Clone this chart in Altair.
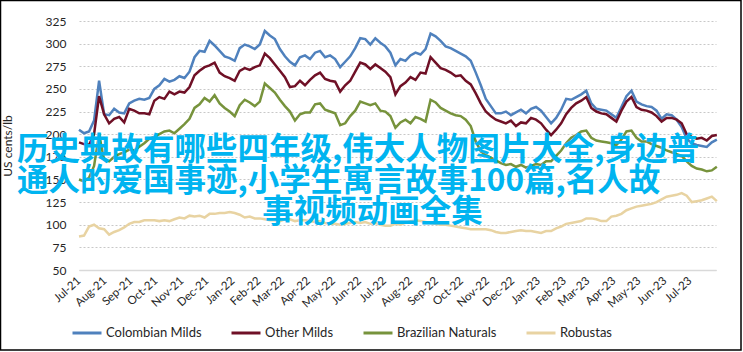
import altair as alt
import pandas as pd

series_names = ["Colombian Milds", "Other Milds", "Brazilian Naturals", "Robustas"]
series_colors = ["#4f81bd", "#6f1026", "#77933c", "#e8d3a2"]

colombian = [205, 201, 203, 215, 259, 222, 221, 228, 224, 223,
             234, 237, 239, 238, 240, 250, 254, 261, 258, 260,
             264, 262, 269, 285, 292, 291, 303, 298, 292, 286,
             284, 281, 295, 299, 297, 294, 299, 314, 309, 305,
             294, 286, 280, 276, 285, 287, 283, 290, 292, 285,
             287, 283, 274, 280, 286, 295, 306, 305, 299, 306,
             301, 297, 290, 276, 283, 281, 287, 290, 288, 294,
             311, 308, 303, 297, 295, 292, 289, 286, 281, 268,
             254, 239, 231, 223, 223, 225, 221, 224, 227, 223,
             228, 230, 226, 219, 212, 218, 227, 239, 238, 241,
             244, 248, 234, 228, 227, 226, 222, 218, 230, 242,
             248, 236, 233, 231, 230, 226, 217, 222, 221, 216,
             208, 195, 190, 188, 187, 186, 191, 194]

other = [191, 189, 188, 200, 242, 222, 212, 217, 219, 213,
         228, 226, 223, 223, 222, 237, 241, 239, 247, 244,
         247, 246, 252, 265, 270, 274, 276, 279, 268, 264,
         262, 259, 270, 273, 271, 274, 276, 289, 284, 277,
         270, 263, 252, 253, 259, 254, 260, 265, 268, 261,
         259, 258, 247, 254, 259, 269, 279, 277, 272, 277,
         273, 269, 263, 244, 253, 257, 263, 260, 268, 267,
         285, 279, 273, 271, 268, 264, 265, 259, 255, 245,
         234, 225, 220, 216, 214, 212, 215, 209, 213, 212,
         218, 216, 212, 205, 199, 205, 212, 222, 229, 234,
         237, 241, 229, 225, 223, 222, 218, 214, 226, 236,
         241, 230, 227, 226, 224, 220, 214, 218, 218, 216,
         212, 200, 197, 195, 196, 193, 198, 199]

brazilian = [150, 148, 152, 165, 200, 172, 170, 175, 178, 180,
             183, 182, 186, 190, 195, 197, 200, 203, 204, 201,
             206, 211, 217, 229, 233, 240, 236, 243, 234, 229,
             225, 220, 232, 238, 235, 231, 236, 256, 251, 246,
             238, 231, 225, 215, 222, 224, 224, 233, 234, 227,
             225, 223, 210, 212, 220, 226, 236, 234, 232, 234,
             226, 225, 220, 207, 213, 216, 212, 219, 217, 214,
             238, 235, 229, 226, 223, 221, 220, 216, 209, 192,
             181, 177, 174, 171, 168, 166, 167, 164, 166, 163,
             165, 167, 166, 170, 170, 176, 182, 190, 196, 199,
             203, 204, 196, 193, 192, 191, 190, 188, 194, 203,
             204, 196, 192, 192, 189, 187, 185, 182, 180, 178,
             176, 170, 165, 162, 161, 159, 160, 164]

robustas = [87, 88, 98, 100, 96, 95, 89, 92, 94, 97,
            101, 103, 103, 105, 105, 105, 104, 105, 104, 106,
            108, 107, 110, 109, 110, 108, 112, 112, 113, 113,
            114, 113, 111, 108, 109, 107, 107, 106, 105, 105,
            104, 106, 106, 104, 105, 105, 104, 103, 104, 102,
            101, 101, 100, 101, 102, 103, 102, 103, 101, 102,
            100, 99, 99, 101, 100, 102, 104, 105, 104, 103,
            102, 101, 100, 100, 99, 98, 97, 96, 95, 95,
            95, 95, 94, 92, 91, 91, 92, 93, 94, 93,
            93, 92, 91, 93, 93, 96, 98, 101, 102, 103,
            104, 107, 107, 106, 104, 104, 109, 110, 112, 116,
            118, 120, 121, 122, 123, 125, 128, 131, 132, 133,
            135, 132, 125, 126, 127, 129, 131, 126]

y_ticks = [50, 75, 100, 125, 150, 175, 200, 225, 250, 275, 300, 325]
overlay_lines = [
    "历史典故有哪些四年级,伟大人物图片大全,身边普",
    "通人的爱国事迹,小学生寓言故事100篇,名人故",
    "事视频动画全集",
]

dates = pd.date_range("2021-07-01", periods=len(colombian), freq="6D")
tick_months = pd.date_range("2021-07-01", "2023-07-01", freq="MS")

rows = []
for name, vals in [("Robustas", robustas), ("Brazilian Naturals", brazilian),
                   ("Colombian Milds", colombian), ("Other Milds", other)]:
    for d, v in zip(dates, vals):
        rows.append({"date": d.strftime("%Y-%m-%dT00:00:00"), "series": name, "value": v})
df = pd.DataFrame(rows)

FONT = "Lato"
TXT = "#262626"

x_enc = alt.X(
    "date:T",
    title=None,
    scale=alt.Scale(domain=[alt.DateTime(year=2021, month=7, date=1),
                            alt.DateTime(year=2023, month=8, date=1)]),
    axis=alt.Axis(
        values=[alt.DateTime(year=d.year, month=d.month, date=1) for d in tick_months],
        format="%b-%y", formatType="time",
        labelAngle=318, labelAlign="right", labelBaseline="middle",
        labelPadding=9, labelFont=FONT, labelFontSize=11.5, labelColor=TXT,
        labelOverlap=False, labelFlush=False,
        grid=False, ticks=False, domain=True, domainColor="#d9d9d9", domainWidth=1.5,
    ),
)
y_enc = alt.Y(
    "value:Q",
    scale=alt.Scale(domain=[50, 325], nice=False, zero=False),
    axis=alt.Axis(
        values=y_ticks, title="US cents/lb",
        grid=True, gridDash=[2, 2], gridColor="#c8c8c8", gridWidth=1,
        domain=False, ticks=False, labelPadding=13,
        labelFont=FONT, labelFontSize=12, labelColor=TXT,
        titleFont=FONT, titleFontSize=12, titleFontWeight="normal", titleColor=TXT,
        titleAngle=270, titleX=-65, titleY=124.5, titleAlign="center", titleBaseline="bottom",
    ),
)

lines = alt.Chart(df).mark_line(strokeWidth=2.5).encode(
    x=x_enc,
    y=y_enc,
    color=alt.Color(
        "series:N",
        scale=alt.Scale(domain=series_names, range=series_colors),
        legend=alt.Legend(
            orient="none", legendX=-8, legendY=296, direction="horizontal", title=None,
            symbolType="stroke", symbolSize=841, symbolStrokeWidth=3,
            labelFont=FONT, labelFontSize=13, labelColor=TXT, labelOffset=3,
            columnPadding=23, labelLimit=300,
        ),
    ),
)

frame = alt.Chart(pd.DataFrame({"k": [0]})).mark_rect(
    filled=False, stroke="black", strokeWidth=1.5
).encode(
    x=alt.value(-78.5), x2=alt.value(662), y=alt.value(-20.5), y2=alt.value(329)
)

txt_df = pd.DataFrame({"t": overlay_lines})
text_style = dict(font="Noto Sans CJK SC", fontSize=31.5, fontWeight="bold",
                  color="#00b4f0", baseline="alphabetic")
t1 = alt.Chart(txt_df).transform_filter(alt.datum.t == overlay_lines[0]).mark_text(
    align="left", **text_style).encode(text="t:N", x=alt.value(-62), y=alt.value(139))
t2 = alt.Chart(txt_df).transform_filter(alt.datum.t == overlay_lines[1]).mark_text(
    align="left", **text_style).encode(text="t:N", x=alt.value(-62), y=alt.value(170))
t3 = alt.Chart(txt_df).transform_filter(alt.datum.t == overlay_lines[2]).mark_text(
    align="center", **text_style).encode(text="t:N", x=alt.value(293.5), y=alt.value(201))

chart = alt.layer(lines, t1, t2, t3, frame).properties(
    width=637, height=249,
    padding={"left": 79, "top": 21, "right": 27, "bottom": 82},
    autosize=alt.AutoSizeParams(type="none"),
    background="white",
).configure_view(stroke=None)

chart.save("out.html", embed_options={"renderer": "svg", "actions": False})
